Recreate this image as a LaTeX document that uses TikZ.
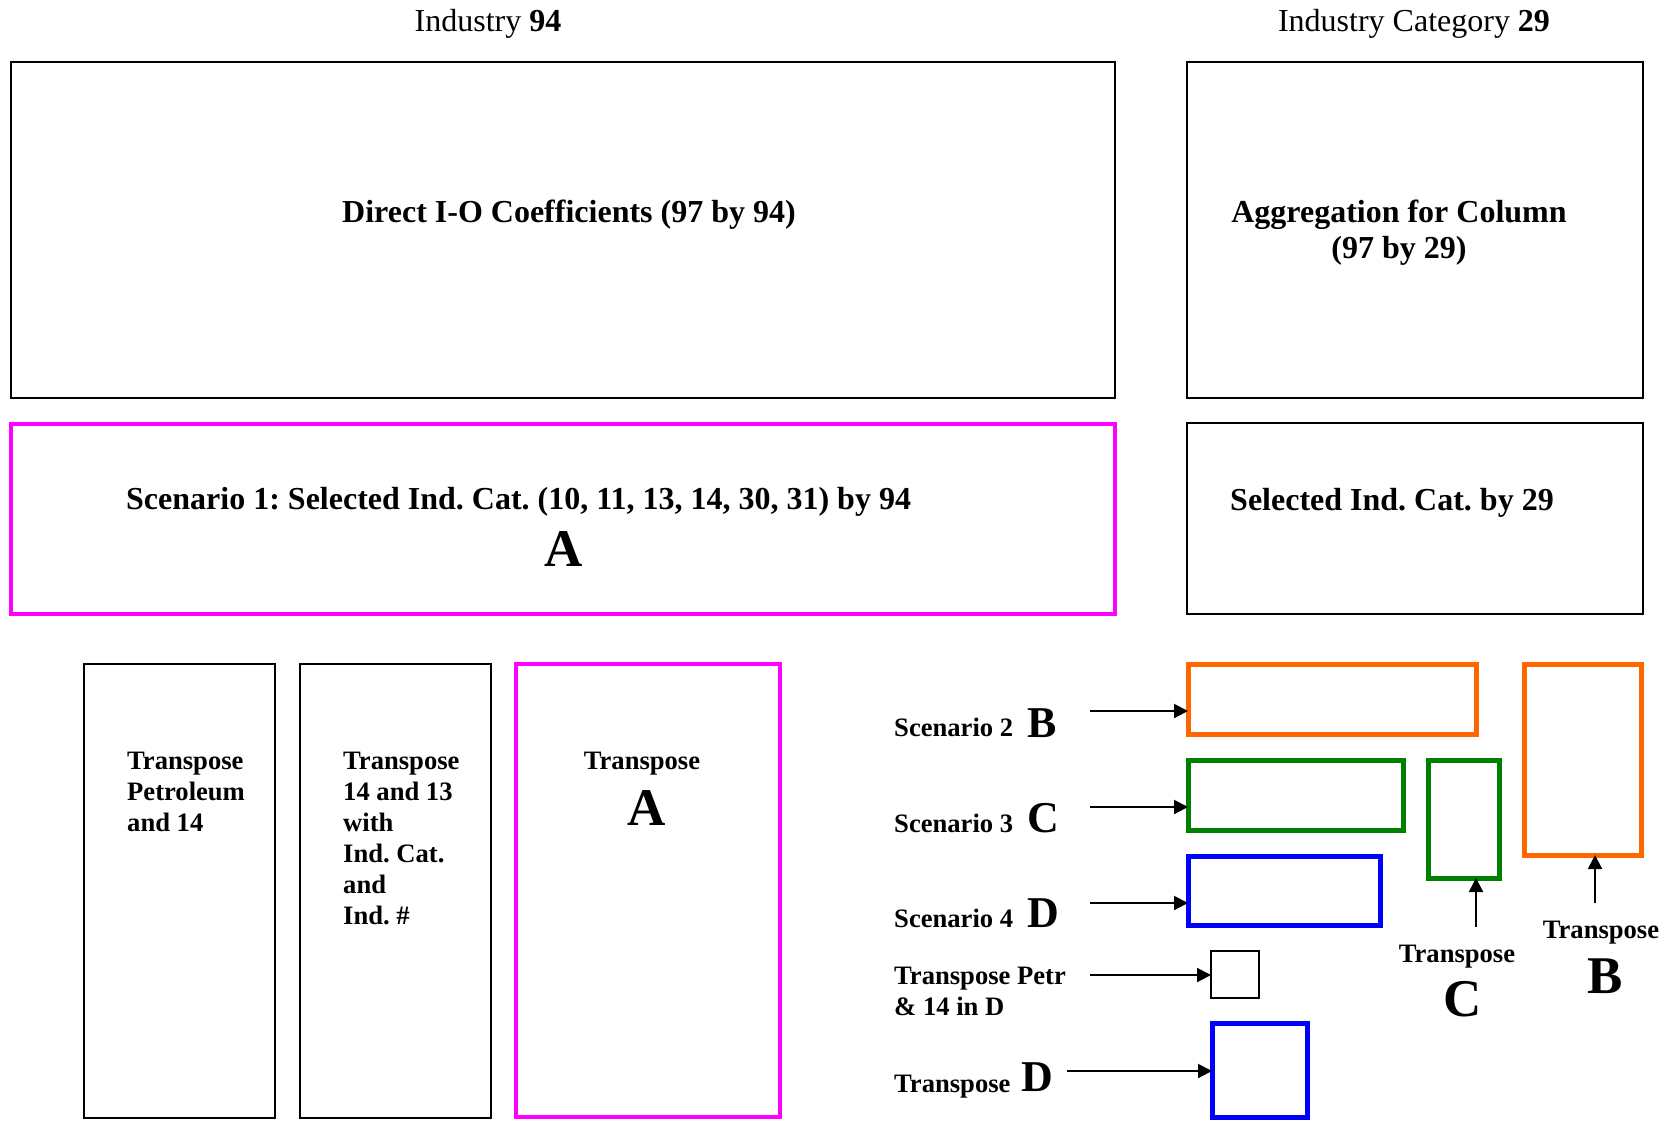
\documentclass[tikz,border=0pt]{standalone}
\usepackage{fontspec}
\setmainfont{Liberation Serif}
\usetikzlibrary{arrows.meta}
\frenchspacing
\definecolor{mymag}{HTML}{FF00FF}
\definecolor{myorg}{HTML}{FF6600}
\definecolor{mygrn}{HTML}{008000}
\definecolor{myblu}{HTML}{0000FF}
\tikzset{
  bx/.style={draw, inner sep=0pt, outer sep=0pt, anchor=north west},
  blk/.style={bx, draw=black, line width=2.4pt},
  mag/.style={bx, draw=mymag, line width=4.5pt},
  org/.style={bx, draw=myorg, line width=5pt},
  grn/.style={bx, draw=mygrn, line width=5pt},
  blu/.style={bx, draw=myblu, line width=5pt},
  thin/.style={bx, draw=black, line width=2pt},
  arr/.style={line width=2pt, -{Triangle[length=14pt,width=14pt]}},
  toplbl/.style={inner sep=0pt, font=\fontsize{32}{36.8}\selectfont},
  bigtxt/.style={inner sep=0pt, font=\fontsize{32}{36.8}\selectfont\bfseries},
  smtxt/.style={inner sep=0pt, font=\fontsize{26.6}{31}\selectfont\bfseries},
  hugeltr/.style={inner sep=0pt, font=\fontsize{53}{60}\selectfont\bfseries},
  midltr/.style={inner sep=0pt, font=\fontsize{44}{50}\selectfont\bfseries},
}
\begin{document}
\begin{tikzpicture}[x=1pt,y=-1pt]
\useasboundingbox (0,0) rectangle (1677,1120);
% top labels
\node[toplbl, anchor=base] (ind) at (488,31) {Industry \textbf{94}};
\node[toplbl, anchor=base] (indcat) at (1414,31) {Industry Category \textbf{29}};
% top boxes
\node[blk, minimum width=1104pt, minimum height=336pt] (direct) at (11,62) {};
\node[blk, minimum width=456pt, minimum height=336pt] (aggr) at (1187,62) {};
\node[bigtxt, anchor=base] (directt) at (569,222) {Direct I-O Coefficients (97 by 94)};
\node[bigtxt, anchor=base] (aggrt) at (1399,222) {\begin{tabular}[t]{@{}c@{}}Aggregation for Column\\(97 by 29)\end{tabular}};
% second row
\node[mag, minimum width=1104pt, minimum height=190pt] (scen1) at (11,424) {};
\node[blk, minimum width=456pt, minimum height=191pt] (selc) at (1187,423) {};
\node[bigtxt, anchor=base west] (scen1t) at (126,509) {Scenario 1: Selected Ind. Cat. (10, 11, 13, 14, 30, 31) by 94};
\node[hugeltr, anchor=base] (scen1A) at (564,566) {A};
\node[bigtxt, anchor=base west] (selct) at (1230,510) {Selected Ind. Cat. by 29};
% transpose columns
\node[blk, minimum width=191pt, minimum height=454pt] (t1) at (84,664) {};
\node[blk, minimum width=191pt, minimum height=454pt] (t2) at (300,664) {};
\node[mag, minimum width=264pt, minimum height=453pt] (t3) at (516,664) {};
\node[smtxt, anchor=base west] (t1t) at (127,769) {\begin{tabular}[t]{@{}l@{}}Transpose\\Petroleum\\and 14\end{tabular}};
\node[smtxt, anchor=base west] (t2t) at (343,769) {\begin{tabular}[t]{@{}l@{}}Transpose\\14 and 13\\with\\Ind. Cat.\\and\\Ind. \#\end{tabular}};
\node[smtxt, anchor=base] (t3t) at (642,769) {Transpose};
\node[hugeltr, anchor=base] (t3A) at (647,825) {A};
% scenario boxes
\node[org, minimum width=288pt, minimum height=70pt] (bB) at (1188,664) {};
\node[grn, minimum width=215pt, minimum height=70pt] (bC) at (1188,760) {};
\node[blu, minimum width=192pt, minimum height=69pt] (bD) at (1188,856) {};
\node[thin, minimum width=48pt, minimum height=47pt] (small) at (1211,951) {};
\node[blu, minimum width=95pt, minimum height=94pt] (bTD) at (1212,1023) {};
\node[grn, minimum width=71pt, minimum height=118pt] (bCt) at (1428,760) {};
\node[org, minimum width=117pt, minimum height=191pt] (bBt) at (1524,664) {};
% scenario labels
\node[smtxt, anchor=base west] (s2) at (894,736) {Scenario 2};
\node[midltr, anchor=base west] (s2B) at (1027,737) {B};
\node[smtxt, anchor=base west] (s3) at (894,832) {Scenario 3};
\node[midltr, anchor=base west] (s3C) at (1027,832) {C};
\node[smtxt, anchor=base west] (s4) at (894,927) {Scenario 4};
\node[midltr, anchor=base west] (s4D) at (1027,927) {D};
\node[smtxt, anchor=base west] (petr) at (894,984) {\begin{tabular}[t]{@{}l@{}}Transpose Petr\\\& 14 in D\end{tabular}};
\node[smtxt, anchor=base west] (tD) at (894,1092) {Transpose};
\node[midltr, anchor=base west] (tDD) at (1021,1091) {D};
\node[smtxt, anchor=base] (tC) at (1457,962) {Transpose};
\node[hugeltr, anchor=base] (tCC) at (1463,1016) {C};
\node[smtxt, anchor=base] (tB) at (1601,938) {Transpose};
\node[hugeltr, anchor=base] (tBB) at (1605,993) {B};
% arrows
\coordinate (a2) at (1090,711);
\coordinate (a3) at (1090,807);
\coordinate (a4) at (1090,903);
\coordinate (aP) at (1090,975);
\coordinate (aTD) at (1067,1071);
\coordinate (aC) at (1476,927);
\coordinate (aB) at (1595,903);
\draw[arr] (a2) -- (a2 -| bB.west);
\draw[arr] (a3) -- (a3 -| bC.west);
\draw[arr] (a4) -- (a4 -| bD.west);
\draw[arr] (aP) -- (aP -| small.west);
\draw[arr] (aTD) -- (aTD -| bTD.west);
\draw[arr] (aC) -- (aC |- bCt.south);
\draw[arr] (aB) -- (aB |- bBt.south);
\end{tikzpicture}
\end{document}
